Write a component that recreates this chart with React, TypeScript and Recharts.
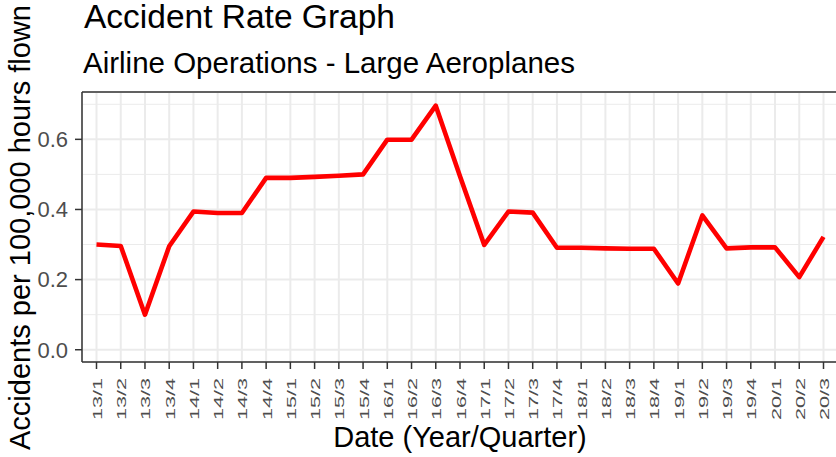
import React from 'react';
import { LineChart, Line, XAxis, YAxis, CartesianGrid, ReferenceLine } from 'recharts';

const quarters = ['13/1','13/2','13/3','13/4','14/1','14/2','14/3','14/4','15/1','15/2','15/3','15/4','16/1','16/2','16/3','16/4','17/1','17/2','17/3','17/4','18/1','18/2','18/3','18/4','19/1','19/2','19/3','19/4','20/1','20/2','20/3'];
const accidentRates = [0.300,0.296,0.100,0.295,0.394,0.390,0.390,0.490,0.490,0.493,0.496,0.500,0.599,0.599,0.696,0.495,0.299,0.394,0.391,0.291,0.291,0.289,0.288,0.288,0.189,0.383,0.289,0.292,0.292,0.207,0.322];
const yMajorTicks = [0, 0.2, 0.4, 0.6];
const yMinorTicks = [0.1, 0.3, 0.5, 0.7];
const yDomain = [-0.035, 0.735];

const chartTitle = 'Accident Rate Graph';
const chartSubtitle = 'Airline Operations - Large Aeroplanes';
const xAxisTitle = 'Date (Year/Quarter)';
const yAxisTitle = 'Accidents per 100,000 hours flown';

const data = quarters.map((q, i) => ({ quarter: q, rate: accidentRates[i] }));

const FONT = '"Liberation Sans", Arial, Helvetica, sans-serif';

function XTick(props: any) {
  const { x, y, payload } = props;
  return (
    <g transform={`translate(${x},${y}) rotate(-90)`}>
      <text
        x={0}
        y={5.5}
        textAnchor="end"
        fontSize={13.5}
        fontFamily={FONT}
        textLength={42}
        lengthAdjust="spacingAndGlyphs"
        fill="#4D4D4D"
      >
        {payload.value}
      </text>
    </g>
  );
}

function YTick(props: any) {
  const { x, y, payload } = props;
  return (
    <text x={x} y={y + 7.8} textAnchor="end" style={{ fontSize: '22px', fontFamily: FONT }} fill="#4D4D4D">
      {Number(payload.value).toFixed(1)}
    </text>
  );
}

export default function App() {
  return (
    <div style={{ position: 'absolute', left: 0, top: 0, width: 836, height: 457, overflow: 'hidden', background: '#fff' }}>
      <LineChart
        width={845}
        height={457}
        data={data}
        margin={{ top: 92, right: 7, bottom: 0, left: 0 }}
        style={{ fontFamily: FONT }}
      >
        <CartesianGrid stroke="#EBEBEB" strokeWidth={2} />
        {yMinorTicks.map((v) => (
          <ReferenceLine key={v} y={v} stroke="#EBEBEB" strokeWidth={1} />
        ))}
        <XAxis
          dataKey="quarter"
          interval={0}
          height={95}
          padding={{ left: 14.5, right: 14.5 }}
          tick={<XTick />}
          tickSize={7}
          tickMargin={9}
          axisLine={{ stroke: '#333333', strokeWidth: 1.5 }}
          tickLine={{ stroke: '#333333', strokeWidth: 1.5 }}
        />
        <YAxis
          type="number"
          domain={yDomain}
          allowDataOverflow
          ticks={yMajorTicks}
          width={82}
          tickSize={7}
          tickMargin={7}
          tick={<YTick />}
          axisLine={{ stroke: '#333333', strokeWidth: 1.5 }}
          tickLine={{ stroke: '#333333', strokeWidth: 1.5 }}
        />
        <ReferenceLine y={yDomain[1]} stroke="#333333" strokeWidth={1.5} />
        <Line
          type="linear"
          dataKey="rate"
          stroke="#FF0000"
          strokeWidth={4.6}
          strokeLinejoin="round"
          dot={false}
          activeDot={false}
          isAnimationActive={false}
        />
      </LineChart>
      <svg width={836} height={457} style={{ position: 'absolute', left: 0, top: 0, pointerEvents: 'none' }}>
        <text x={84} y={28} fontSize={33.5} fill="#000" fontFamily={FONT}>{chartTitle}</text>
        <text x={83} y={73} fontSize={29.5} fill="#000" fontFamily={FONT}>{chartSubtitle}</text>
        <text x={460} y={447} fontSize={29} fill="#000" fontFamily={FONT} textAnchor="middle">{xAxisTitle}</text>
        <text transform="translate(30,227.5) rotate(-90)" fontSize={29} fill="#000" fontFamily={FONT} textAnchor="middle">{yAxisTitle}</text>
      </svg>
    </div>
  );
}
